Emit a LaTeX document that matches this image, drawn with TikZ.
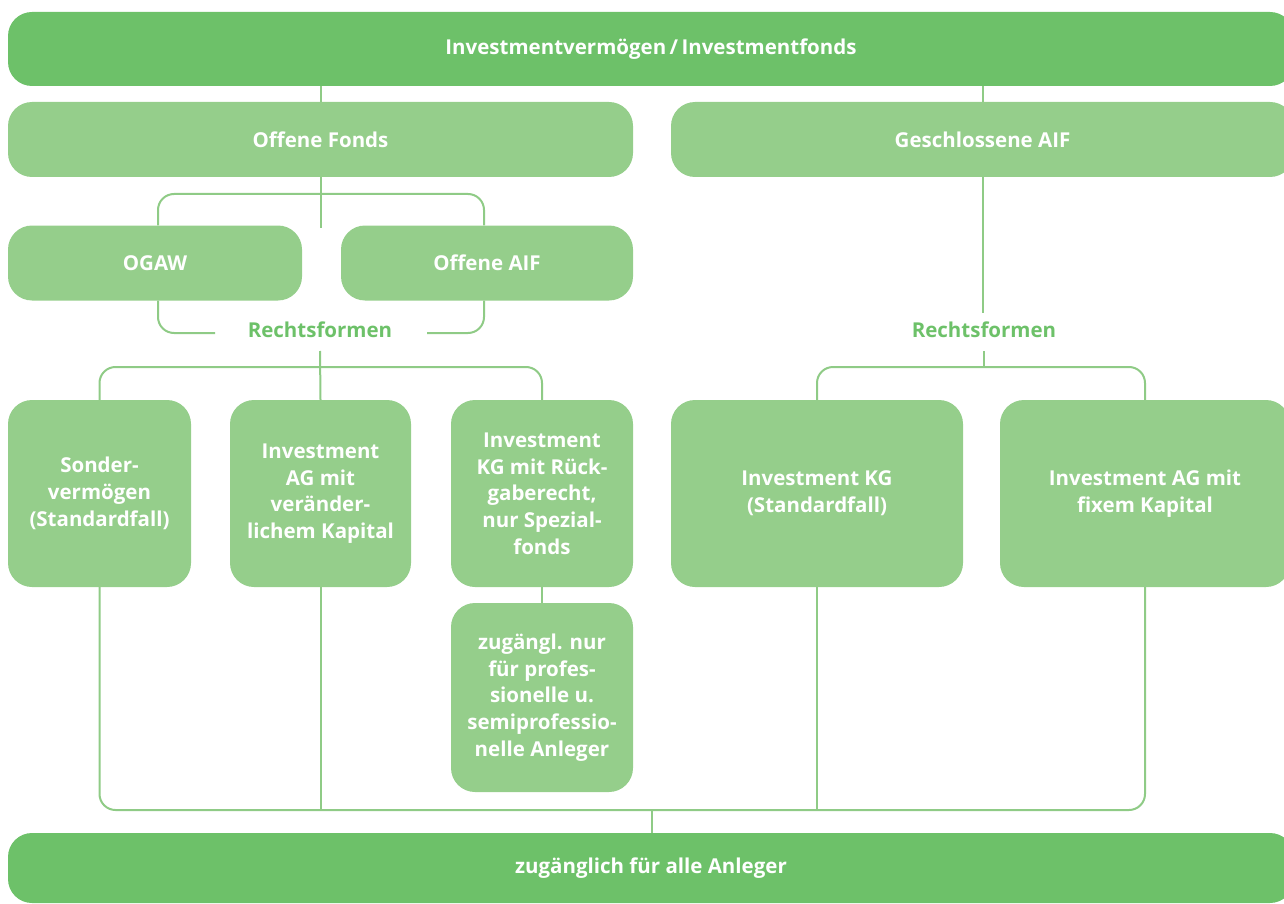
\documentclass[tikz,border=0pt]{standalone}
\usepackage{fontspec}
\setmainfont{Open Sans}
\definecolor{dkg}{HTML}{6DC169}
\definecolor{ltg}{HTML}{95CE8B}
\definecolor{lng}{HTML}{8FCB86}
\begin{document}
\begin{tikzpicture}[x=1pt,y=-1pt,
  box/.style={fill=ltg, rounded corners=24pt, inner sep=0pt, text=white,
    font=\fontsize{20.5}{26.7}\selectfont\bfseries, align=center},
  dbox/.style={box, fill=dkg},
  lbl/.style={text=dkg, font=\fontsize{20.5}{24}\selectfont\bfseries, inner sep=0pt},
  conn/.style={draw=lng, line width=2pt},
  rc/.style={conn, rounded corners=16pt}]
\useasboundingbox (0,0) rectangle (1284,904);
% boxes
\node[dbox, minimum width=1286pt, minimum height=74pt] (top) at (651,49) {Investmentvermögen\,/\,Investmentfonds};
\node[box, minimum width=625pt, minimum height=75pt] (of) at (320.5,139.5) {Offene Fonds};
\node[box, minimum width=623pt, minimum height=75pt] (gs) at (982.5,139.5) {Geschlossene AIF};
\node[box, minimum width=294pt, minimum height=75pt] (ogaw) at (155,263) {OGAW};
\node[box, minimum width=292pt, minimum height=75pt] (oaif) at (487,263) {Offene AIF};
\node[lbl] (rf1) at (320,330) {Rechtsformen};
\node[lbl] (rf2) at (984,330) {Rechtsformen};
\node[box, minimum width=183pt, minimum height=187pt] (sonder) at (99.5,493.5) {Sonder-\\vermögen\\(Standardfall)};
\node[box, minimum width=181pt, minimum height=187pt] (ag) at (320.5,493.5) {Investment\\AG mit\\veränder-\\lichem Kapital};
\node[box, minimum width=182pt, minimum height=187pt] (kgr) at (542,493.5) {Investment\\KG mit Rück-\\gaberecht,\\nur Spezial-\\fonds};
\node[box, minimum width=292pt, minimum height=187pt] (kg) at (817,493.5) {Investment KG\\(Standardfall)};
\node[box, minimum width=290pt, minimum height=187pt] (agf) at (1145,493.5) {Investment AG mit\\fixem Kapital};
\node[box, minimum width=182pt, minimum height=189pt] (zug) at (542,697.5) {zugängl. nur\\für profes-\\sionelle u.\\semiprofessio-\\nelle Anleger};
\node[dbox, minimum width=1286pt, minimum height=70pt] (bot) at (651,868) {zugänglich für alle Anleger};
% helper coordinates
\coordinate (y1) at (0,194);
\coordinate (y2) at (0,228);
\coordinate (y3) at (0,333);
\coordinate (y4) at (0,351);
\coordinate (y5) at (0,313);
\coordinate (y6) at (0,367);
\coordinate (y7) at (0,810);
\coordinate (cl) at (215,0);
\coordinate (cr) at (427,0);
\coordinate (cm) at (652,0);
\coordinate (ox) at (158,0);
\coordinate (ax) at (484,0);
% connectors
\draw[conn] (of.north) -- (of.north |- top.south);
\draw[conn] (gs.north) -- (gs.north |- top.south);
\draw[conn] (of.south) -- (of.south |- y2);
\draw[rc] (ox |- ogaw.north) |- (of.south |- y1) -| (ax |- oaif.north);
\draw[rc] (ox |- ogaw.south) |- (cl |- y3);
\draw[rc] (ax |- oaif.south) |- (cr |- y3);
\draw[conn] (gs.south) -- (gs.south |- y5);
\draw[conn] (rf1.south |- y4) -- (ag.north);
\draw[rc] (sonder.north) |- (ag.north |- y6) -| (kgr.north);
\draw[conn] (rf2.south |- y4) -- (rf2.south |- y6);
\draw[rc] (kg.north) |- (rf2.south |- y6) -| (agf.north);
\draw[conn] (kgr.south) -- (zug.north);
\draw[rc] (sonder.south) |- (cm |- y7) -| (agf.south);
\draw[conn] (ag.south) -- (ag.south |- y7);
\draw[conn] (kg.south) -- (kg.south |- y7);
\draw[conn] (cm |- y7) -- (cm |- bot.north);
\end{tikzpicture}
\end{document}
